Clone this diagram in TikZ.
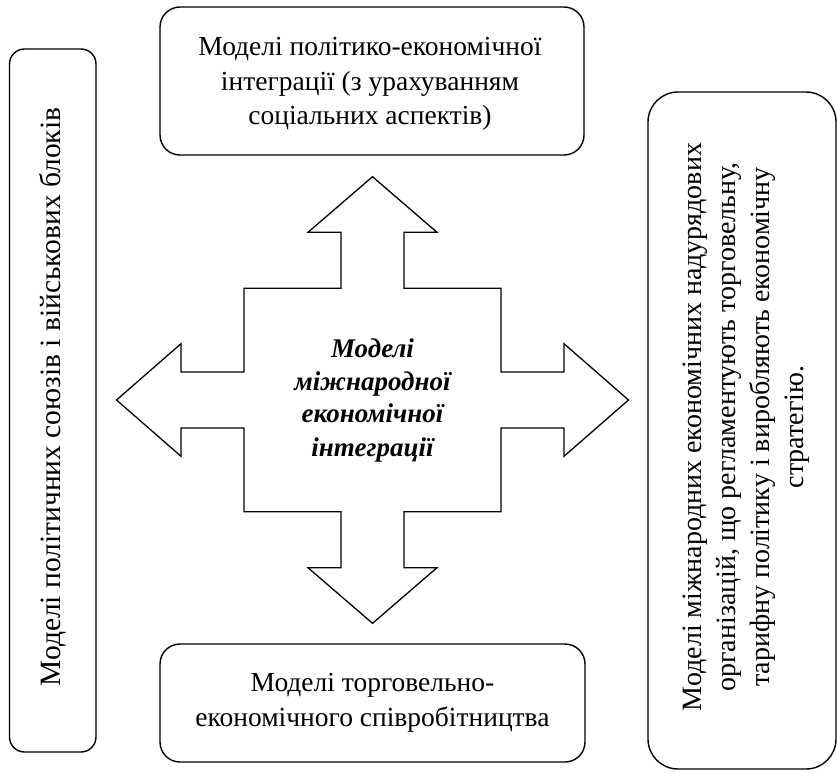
\documentclass[tikz,border=0pt]{standalone}
\usepackage{fontspec}
\setmainfont{Liberation Serif}
\begin{document}
\begin{tikzpicture}[x=1pt,y=-1pt,
  box/.style={draw, line width=1.4pt, inner sep=0pt},
  txt/.style={font=\fontsize{27.5}{34.5}\selectfont, align=center},
  vtxt/.style={font=\fontsize{28}{34}\selectfont, align=center, rotate=90},
  crossline/.style={draw, line width=1.3pt, line join=miter}]
\useasboundingbox (0,0) rectangle (837,771);
% boxes
\node[box, rounded corners=15pt, minimum width=86.5pt, minimum height=703pt] (L) at (52.75,400.5) {};
\node[box, rounded corners=20pt, minimum width=424pt, minimum height=148pt] (T) at (372,81) {};
\node[box, rounded corners=20pt, minimum width=425pt, minimum height=118pt] (B) at (372.5,703) {};
\node[box, rounded corners=30pt, minimum width=188pt, minimum height=677pt] (R) at (742,430.5) {};
% texts
\node[vtxt, font=\fontsize{29.5}{34}\selectfont] (Lt) at (52.5,397) {Моделі політичних союзів і військових блоків};
\node[txt] (Tt) at (370,84) {Моделі політико-економічної\\інтеграції (з урахуванням\\соціальних аспектів)};
\node[txt] (Bt) at (372.5,703) {Моделі торговельно-\\економічного співробітництва};
\node[vtxt] (Rt) at (746,427) {Моделі міжнародних економічних надурядових\\організацій, що регламентують торговельну,\\тарифну політику і виробляють економічну\\стратегію.};
% cross arrow
\draw[crossline] (372.5,176.7) -- (437,232.3) -- (404,232.3) -- (404,288.3) -- (501,288.3)
  -- (501,372) -- (564,372) -- (564,343.7) -- (628.5,400) -- (564,456.3) -- (564,428) -- (501,428)
  -- (501,511.7) -- (404,511.7) -- (404,567.7) -- (437,567.7) -- (372.5,623.3) -- (308,567.7)
  -- (341,567.7) -- (341,511.7) -- (244,511.7) -- (244,428) -- (181,428) -- (181,456.3)
  -- (116.5,400) -- (181,343.7) -- (181,372) -- (244,372) -- (244,288.3) -- (341,288.3)
  -- (341,232.3) -- (308,232.3) -- cycle;
\node[font=\bfseries\itshape\fontsize{27}{33}\selectfont, align=center] (C) at (372.5,400) {Моделі\\міжнародної\\економічної\\інтеграції};
\end{tikzpicture}
\end{document}
